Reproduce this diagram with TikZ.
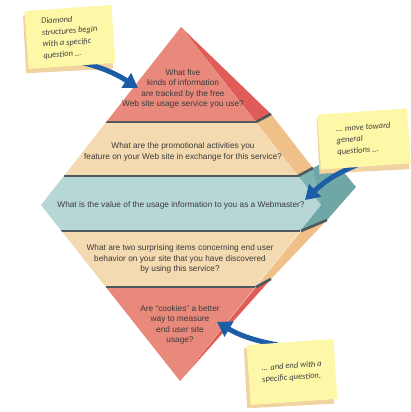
\documentclass[tikz,border=0pt]{standalone}
\usepackage{fontspec}
\setmainfont{Liberation Sans}
\newfontfamily\notefont{Carlito}
\usetikzlibrary{arrows.meta}

\definecolor{redfront}{HTML}{E8897C}
\definecolor{redside}{HTML}{E05C58}
\definecolor{tanfront}{HTML}{F4DAB0}
\definecolor{tanside}{HTML}{EFC088}
\definecolor{bluefront}{HTML}{B7D7D6}
\definecolor{blueside}{HTML}{6EA7A6}
\definecolor{bluemid}{HTML}{7FB3B2}
\definecolor{sepgray}{HTML}{4F585B}
\definecolor{noteyellow}{HTML}{FDF7A8}
\definecolor{noteshadow}{HTML}{F0D3A0}
\definecolor{arrowblue}{HTML}{1D5DA6}
\definecolor{textgray}{HTML}{3B3B3B}

\tikzset{
  question/.style={align=center, text=textgray, inner sep=0pt,
    font=\fontsize{8.3}{10.5}\selectfont},
  sticky/.style={fill=noteyellow, inner sep=0pt, align=left, text=black!75,
    font=\notefont\itshape\fontsize{8.5}{11.5}\selectfont},
  stickyback/.style={fill=noteshadow, inner sep=0pt},
  pointer/.style={arrowblue, line width=5pt, -{Triangle[width=17pt,length=14pt]}},
  separator/.style={sepgray, line width=2.6pt},
}

\begin{document}
\begin{tikzpicture}[x=1pt,y=-1pt]
    \useasboundingbox (0,0) rectangle (410,412);

    % corners of the diamond and the cuts between the bands
    \coordinate (T) at (181,27);
    \coordinate (L) at (41,205);
    \coordinate (B) at (180,381);
    \coordinate (R) at (321,205);
    \coordinate (L1) at (106,122);  \coordinate (R1) at (256,122);  \coordinate (R1d) at (271,114);
    \coordinate (L2) at (64,176);   \coordinate (R2) at (298,176);  \coordinate (R2d) at (313,168);
    \coordinate (L3) at (61,231);   \coordinate (R3) at (301,231);  \coordinate (R3d) at (327,220);
    \coordinate (L4) at (106,287);  \coordinate (R4) at (256,287);  \coordinate (R4d) at (271,279);
    \coordinate (Rd) at (356,187);

    % side faces
    \fill [redside] (T) -- (R1d) -- (R1) -- cycle;
    \fill [tanside] (R1) -- (R1d) -- (R2d) -- (R2) -- cycle;
    \fill [blueside] (R2) -- (R2d) -- (332,158) -- (Rd) -- (R3d) -- (R3) -- cycle;
    \fill [bluemid] (R2) -- (R2d) -- (R) -- cycle;
    \fill [tanside] (R3) -- (R3d) -- (R4d) -- (R4) -- cycle;
    \fill [redside] (R4) -- (R4d) -- (B) -- cycle;

    % front faces
    \begin{scope}
        \clip (T) -- (L) -- (B) -- (R) -- cycle;
        \fill [redfront] (0,0) rectangle (410,122);
        \fill [tanfront] (0,122) rectangle (410,176);
        \fill [bluefront] (0,176) rectangle (410,231);
        \fill [tanfront] (0,231) rectangle (410,287);
        \fill [redfront] (0,287) rectangle (410,412);
        \draw [separator] (L1) -- (R1);
        \draw [separator] (L2) -- (R2);
        \draw [separator] (L3) -- (R3);
        \draw [separator] (L4) -- (R4);
    \end{scope}
    \draw [separator] (R1) -- (R1d);
    \draw [separator] (R2) -- (R2d);
    \draw [separator] (R3) -- (R3d);
    \draw [separator] (R4) -- (R4d);

    \node [question] (q1) at (183,89) {What five\\kinds of information\\are tracked by the free\\Web site usage service you use?};
    \node [question] (q2) at (183,152) {What are the promotional activities you\\feature on your Web site in exchange for this service?};
    \node [question] (q3) at (181,205) {What is the value of the usage information to you as a Webmaster?};
    \node [question] (q4) at (180,259) {What are two surprising items concerning end user\\behavior on your site that you have discovered\\by using this service?};
    \node [question] (q5) at (180,325) {Are ``cookies'' a better\\way to measure\\end user site\\usage?};

    % arrow tips
    \coordinate (t1) at (138,88);
    \coordinate (t2) at (305,200);
    \coordinate (t3) at (217,322);

    % sticky notes
    \node [stickyback, rotate=3, minimum width=87pt, minimum height=58pt] (n1b) at (68,42) {};
    \node [stickyback, rotate=3, minimum width=90pt, minimum height=55pt] (n2b) at (363,144) {};
    \node [stickyback, rotate=3, minimum width=87pt, minimum height=60pt] (n3b) at (289,376) {};

    \path [pointer] (72,60) edge [bend left=10] (t1);
    \path [pointer] (370,160) edge [bend right=12] (t2);
    \path [pointer] (278,345) edge [bend left=10] (t3);

    \node [sticky, rotate=4, minimum width=87pt, minimum height=58pt] (n1) at (70,37) {Diamond\\structures begin\\with a specific\\question ...};
    \node [sticky, rotate=4, minimum width=90pt, minimum height=55pt] (n2) at (364,139) {... move toward\\general\\questions ...};
    \node [sticky, rotate=4, minimum width=87pt, minimum height=60pt] (n3) at (292,372) {... and end with a\\specific question.};
\end{tikzpicture}
\end{document}
